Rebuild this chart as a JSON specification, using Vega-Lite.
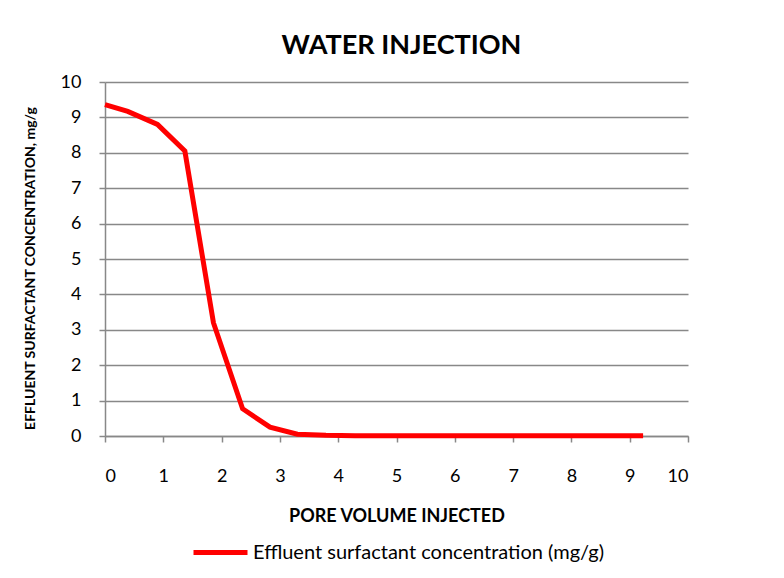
{
  "$schema": "https://vega.github.io/schema/vega-lite/v6.json",
  "width": 583,
  "height": 354,
  "autosize": {"type": "none"},
  "padding": {"left": 105, "top": 82, "right": 96, "bottom": 142},
  "background": "white",
  "title": {
    "text": "WATER INJECTION",
    "font": "Lato",
    "fontSize": 27,
    "fontWeight": "bold",
    "color": "#000000",
    "anchor": "middle",
    "offset": 13,
    "dx": 5
  },
  "data": {
    "values": [
      {"pv": 0, "c": 9.36, "s": "Effluent surfactant concentration  (mg/g)"},
      {"pv": 0.39, "c": 9.17, "s": "Effluent surfactant concentration  (mg/g)"},
      {"pv": 0.9, "c": 8.8, "s": "Effluent surfactant concentration  (mg/g)"},
      {"pv": 1.37, "c": 8.05, "s": "Effluent surfactant concentration  (mg/g)"},
      {"pv": 1.86, "c": 3.2, "s": "Effluent surfactant concentration  (mg/g)"},
      {"pv": 2.36, "c": 0.77, "s": "Effluent surfactant concentration  (mg/g)"},
      {"pv": 2.83, "c": 0.25, "s": "Effluent surfactant concentration  (mg/g)"},
      {"pv": 3.3, "c": 0.05, "s": "Effluent surfactant concentration  (mg/g)"},
      {"pv": 3.79, "c": 0.02, "s": "Effluent surfactant concentration  (mg/g)"},
      {"pv": 4.29, "c": 0.01, "s": "Effluent surfactant concentration  (mg/g)"},
      {"pv": 4.78, "c": 0.01, "s": "Effluent surfactant concentration  (mg/g)"},
      {"pv": 5.28, "c": 0.01, "s": "Effluent surfactant concentration  (mg/g)"},
      {"pv": 5.77, "c": 0.01, "s": "Effluent surfactant concentration  (mg/g)"},
      {"pv": 6.27, "c": 0.01, "s": "Effluent surfactant concentration  (mg/g)"},
      {"pv": 6.76, "c": 0.01, "s": "Effluent surfactant concentration  (mg/g)"},
      {"pv": 7.25, "c": 0.01, "s": "Effluent surfactant concentration  (mg/g)"},
      {"pv": 7.75, "c": 0.01, "s": "Effluent surfactant concentration  (mg/g)"},
      {"pv": 8.24, "c": 0.01, "s": "Effluent surfactant concentration  (mg/g)"},
      {"pv": 8.74, "c": 0.01, "s": "Effluent surfactant concentration  (mg/g)"},
      {"pv": 9.23, "c": 0.01, "s": "Effluent surfactant concentration  (mg/g)"}
    ]
  },
  "mark": {"type": "line", "strokeWidth": 5, "strokeJoin": "miter", "strokeCap": "butt"},
  "encoding": {
    "x": {
      "field": "pv",
      "type": "quantitative",
      "scale": {"domain": [0, 10], "nice": false},
      "axis": {
        "title": "PORE VOLUME INJECTED",
        "values": [0, 1, 2, 3, 4, 5, 6, 7, 8, 9, 10],
        "grid": false,
        "domainColor": "#888888",
        "domainWidth": 1.5,
        "tickColor": "#888888",
        "tickWidth": 1.5,
        "tickSize": 6,
        "labelPadding": 25,
        "labelFont": "Lato",
        "labelFontSize": 18,
        "labelColor": "#000000",
        "titleFont": "Lato",
        "titleFontSize": 18,
        "titleFontWeight": "bold",
        "titleColor": "#000000",
        "titleY": 80,
        "titleBaseline": "middle"
      }
    },
    "y": {
      "field": "c",
      "type": "quantitative",
      "scale": {"domain": [0, 10], "nice": false},
      "axis": {
        "title": "EFFLUENT SURFACTANT CONCENTRATION, mg/g",
        "values": [0, 1, 2, 3, 4, 5, 6, 7, 8, 9, 10],
        "grid": true,
        "gridColor": "#888888",
        "gridWidth": 1.5,
        "domainColor": "#888888",
        "domainWidth": 1.5,
        "tickColor": "#888888",
        "tickWidth": 1.5,
        "tickSize": 6,
        "labelPadding": 18,
        "labelFont": "Lato",
        "labelFontSize": 18,
        "labelColor": "#000000",
        "titleFont": "Lato",
        "titleFontSize": 14,
        "titleFontWeight": "bold",
        "titleColor": "#000000",
        "titleX": -75,
        "titleY": 186,
        "titleAngle": 270,
        "titleBaseline": "middle",
        "titleAlign": "center"
      }
    },
    "color": {
      "field": "s",
      "type": "nominal",
      "scale": {"range": ["#ff0000"]},
      "legend": {
        "title": null,
        "orient": "none",
        "legendX": 86,
        "legendY": 441,
        "symbolType": "stroke",
        "symbolSize": 2916,
        "symbolStrokeWidth": 5,
        "labelFont": "Lato",
        "labelFontSize": 20,
        "labelColor": "#000000",
        "labelOffset": 3,
        "labelLimit": 600
      }
    }
  },
  "config": {
    "view": {"stroke": null}
  }
}
